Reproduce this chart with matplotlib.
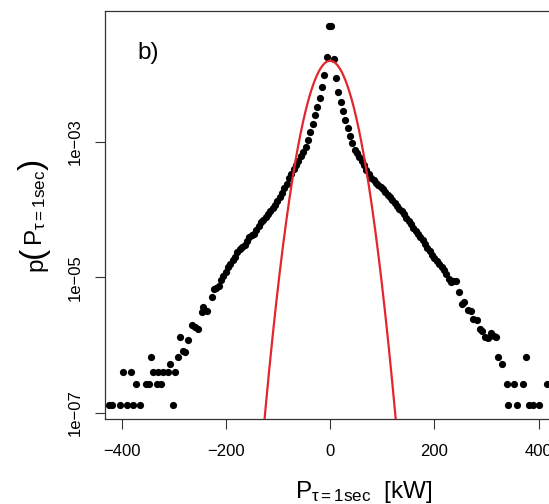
# -*- coding: utf-8 -*-

import numpy as np
import matplotlib
matplotlib.use("Agg")
import matplotlib.pyplot as plt

plt.rcParams['font.family'] = 'Liberation Sans'
plt.rcParams['mathtext.fontset'] = 'custom'
plt.rcParams['mathtext.rm'] = 'Liberation Sans'
plt.rcParams['mathtext.it'] = 'Liberation Sans:italic'
plt.rcParams['mathtext.bf'] = 'Liberation Sans:bold'

# histogram points, x in kW, log10 of the density
left_tail_x = [-425, -419, -404, -398, -390, -383, -378, -372, -365, -353, -347,
               -343.5, -339, -332.5, -329.5, -325, -320, -312, -308, -302, -297.5,
               -292, -288, -283, -278, -273, -265, -259, -254, -246, -243, -237, -227]
left_tail_logp = [-6.88, -6.88, -6.88, -6.40, -6.88, -6.40, -6.88, -6.58, -6.88, -6.58, -6.58,
                  -6.18, -6.40, -6.58, -6.40, -6.58, -6.40, -6.40, -6.28, -6.88, -6.40,
                  -6.18, -5.88, -6.09, -6.10, -5.92, -5.70, -5.74, -5.77, -5.51, -5.44, -5.50, -5.29]

core_left_x = [-222.75, -218.25, -213.75, -209.25, -204.75, -200.25, -195.75, -191.25,
               -186.75, -182.25, -177.75, -173.25, -168.75, -164.25, -159.75, -155.25,
               -150.75, -146.25, -141.75, -137.25, -132.75, -128.25, -123.75, -119.25,
               -114.75, -110.25, -105.75, -101.25, -96.75, -92.25, -87.75, -83.25,
               -78.75, -74.25, -69.75, -65.25, -60.75, -56.25, -51.75, -47.25,
               -42.75, -38.25, -33.75, -29.25, -24.75, -20.25, -15.75, -11.25, -6.75, -2.25]
core_left_logp = [-5.18, -5.16, -5.13, -5.04, -4.98, -4.93, -4.85, -4.80,
                  -4.75, -4.70, -4.63, -4.59, -4.56, -4.52, -4.46, -4.41,
                  -4.38, -4.36, -4.30, -4.24, -4.19, -4.15, -4.11, -4.07,
                  -4.03, -3.98, -3.93, -3.87, -3.81, -3.76, -3.69, -3.62,
                  -3.54, -3.47, -3.41, -3.34, -3.28, -3.21, -3.15, -3.08,
                  -2.97, -2.86, -2.74, -2.61, -2.49, -2.35, -2.20, -2.02, -1.75, -1.29]

core_right_x = [2.25, 6.75, 11.25, 15.75, 20.25, 24.75, 29.25, 33.75, 38.25, 42.75,
                47.25, 51.75, 56.25, 60.75, 65.25, 69.75, 74.25, 78.75, 83.25, 87.75,
                92.25, 96.75, 101.25, 105.75, 110.25, 114.75, 119.25, 123.75, 128.25, 132.75,
                137.25, 141.75, 146.25, 150.75, 155.25, 159.75, 164.25, 168.75, 173.25, 177.75,
                182.25, 186.75, 191.25, 195.75, 200.25, 204.75, 209.25, 213.75, 218.25, 222.75,
                227.25, 231.75, 236.25, 240.75]
core_right_logp = [-1.29, -1.78, -2.06, -2.27, -2.41, -2.55, -2.68, -2.80, -2.91, -3.02,
                   -3.12, -3.17, -3.22, -3.28, -3.35, -3.42, -3.48, -3.53, -3.57, -3.61,
                   -3.64, -3.67, -3.70, -3.74, -3.78, -3.82, -3.86, -3.91, -3.95, -3.99,
                   -4.03, -4.07, -4.12, -4.17, -4.22, -4.27, -4.32, -4.36, -4.40, -4.45,
                   -4.51, -4.57, -4.62, -4.67, -4.72, -4.76, -4.80, -4.85, -4.90, -4.96,
                   -5.03, -5.07, -5.06, -5.05]

right_tail_x = [247, 253, 257, 265.5, 270, 275, 281.5, 288, 292, 297.5, 302, 309, 314,
                318, 322, 330, 339, 342, 352, 359, 370, 376, 381, 390, 401, 416]
right_tail_logp = [-5.22, -5.40, -5.36, -5.48, -5.50, -5.61, -5.63, -5.76, -5.80, -5.88,
                   -5.90, -5.83, -5.87, -5.89, -6.18, -6.28, -6.58, -6.88, -6.58, -6.88,
                   -6.58, -6.18, -6.88, -6.88, -6.88, -6.58]

# gaussian fit (red line)
mu = 0.0
sigma = 25.5

x_tick_vals = [-400, -200, 0, 200, 400]
y_tick_vals = [1e-3, 1e-5, 1e-7]
y_tick_labels = ['1e\u221203', '1e\u221205', '1e\u221207']

x_pts = np.array(left_tail_x + core_left_x + core_right_x + right_tail_x)
p_pts = 10 ** np.array(left_tail_logp + core_left_logp + core_right_logp + right_tail_logp)

x_fit = np.linspace(-140, 140, 600)
p_fit = np.exp(-(x_fit - mu) ** 2 / (2 * sigma ** 2)) / (sigma * np.sqrt(2 * np.pi))

fig = plt.figure(figsize=(5.49, 5.04), dpi=100)
ax = fig.add_axes([105 / 549, 85 / 504, 518 / 549, 408 / 504])

ax.plot(x_pts, p_pts, 'o', color='black', markersize=5.2, markeredgewidth=0, zorder=2)
ax.plot(x_fit, p_fit, color='#e3262b', linewidth=1.6, zorder=3)

ax.set_yscale('log')
ax.set_xlim(-432, 562)
ax.set_ylim(10 ** -7.093, 10 ** -1.071)

ax.set_xticks(x_tick_vals)
ax.set_yticks(y_tick_vals)
ax.set_yticklabels(y_tick_labels, rotation=90, va='center')
ax.minorticks_off()
ax.tick_params(axis='both', direction='out', length=7, width=0.8, labelsize=12,
               color='#333333')
ax.tick_params(axis='x', pad=11)
ax.tick_params(axis='y', pad=9)
for sp in ax.spines.values():
    sp.set_color('#333333')
    sp.set_linewidth(0.9)

ax.set_xlabel(r'$\mathrm{P}_{\mathrm{\tau{=}1sec}}\ \ \mathrm{[kW]}$', fontsize=17.5, va='center')
ax.xaxis.set_label_coords(0.5, -0.178)

# y label built from pieces so the brackets can be taller than the letters
renderer = fig.canvas.get_renderer()
pieces = [('p', 17.5), ('(', 24), (r'P$_{\mathrm{\tau{=}1sec}}$', 17.5), (')', 24)]
base_x = 42
texts = []
lengths = []
for s, fs in pieces:
    t = fig.text(0, 0, s, fontsize=fs, rotation=90, rotation_mode='anchor',
                 ha='left', va='baseline', transform=None)
    lengths.append(t.get_window_extent(renderer).height)
    texts.append(t)
y_cur = (504 - 215) - sum(lengths) / 2
for t, h in zip(texts, lengths):
    t.set_position((base_x, y_cur))
    y_cur += h

fig.text(137 / 549, 1 - 53 / 504, 'b)', fontsize=17.5, ha='left', va='center')

fig.savefig('out.png', dpi=100)
